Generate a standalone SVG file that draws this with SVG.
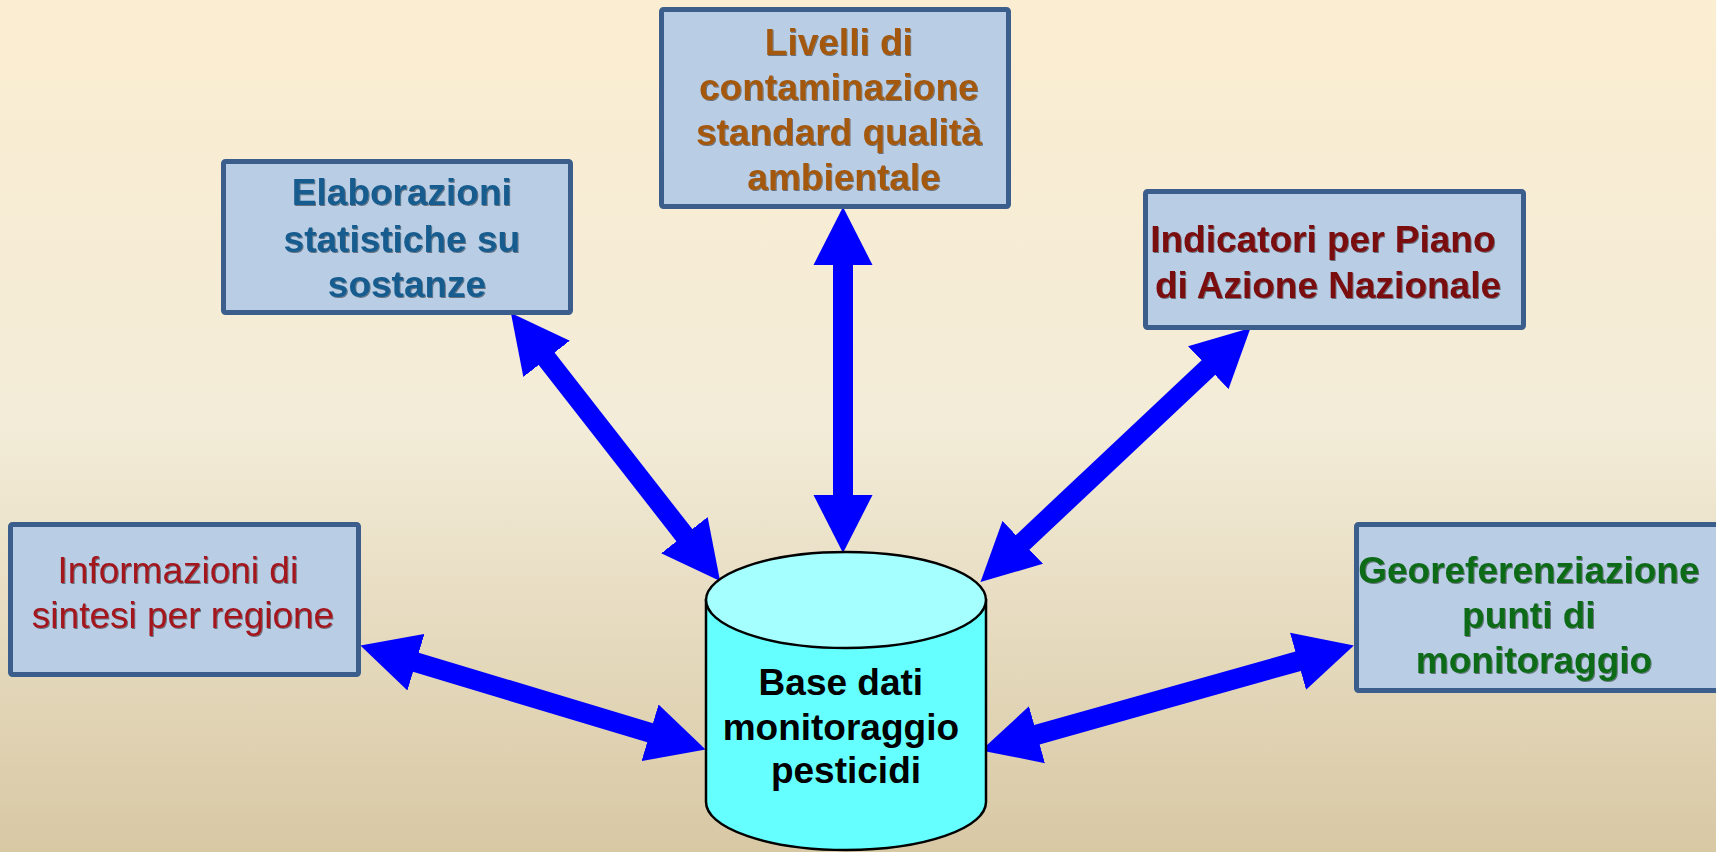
<svg xmlns="http://www.w3.org/2000/svg" width="1716" height="852" viewBox="0 0 1716 852">
  <defs>
    <linearGradient id="bg" x1="0" y1="0" x2="0" y2="1">
      <stop offset="0" stop-color="#fbedd1"/>
      <stop offset="0.5" stop-color="#f3ecd8"/>
      <stop offset="1" stop-color="#d8c8a4"/>
    </linearGradient>
    <marker id="head" viewBox="0 -30 58 60" refX="1" refY="0" markerWidth="58" markerHeight="60" markerUnits="userSpaceOnUse" orient="auto-start-reverse">
      <path d="M0,-29.5 L58,0 L0,29.5 Z" fill="#0000ff"/>
    </marker>
    <filter id="sh" x="-5%" y="-20%" width="110%" height="140%">
      <feDropShadow dx="1" dy="1" stdDeviation="0.7" flood-color="#000" flood-opacity="0.45"/>
    </filter>
    <style>
      .box { fill: #b9cde4; stroke: #3b5e8c; stroke-width: 5; }
      .t { font-family: "Liberation Sans", Arial, sans-serif; text-anchor: middle; }
      .b { font-weight: bold; }
      .sh { filter: url(#sh); }
      .arr { stroke: #0000ff; stroke-width: 20; fill: none; marker-start: url(#head); marker-end: url(#head); }
    </style>
  </defs>
  <rect x="0" y="0" width="1716" height="852" fill="url(#bg)"/>

  <g id="connectors">
    <line class="arr" x1="546" y1="358" x2="685" y2="536"/>
    <line class="arr" x1="843" y1="264" x2="843" y2="496"/>
    <line class="arr" x1="1209" y1="367" x2="1022" y2="543"/>
    <line class="arr" x1="415" y1="662" x2="651" y2="733"/>
    <line class="arr" x1="1036" y1="735" x2="1299" y2="661"/>
  </g>

  <g id="node-elaborazioni">
    <rect class="box" x="223.5" y="161.5" width="347" height="151" rx="2"/>
    <text class="t b sh" font-size="37" fill="#165b8e">
      <tspan x="407" y="205">Elaborazioni</tspan>
      <tspan x="407" y="252">statistiche su</tspan>
      <tspan x="407" y="297">sostanze</tspan>
    </text>
  </g>

  <g id="node-livelli">
    <rect class="box" x="661.5" y="9.5" width="347" height="197" rx="2"/>
    <text class="t b sh" font-size="37" fill="#a3590f">
      <tspan x="844" y="55">Livelli di</tspan>
      <tspan x="844" y="100">contaminazione</tspan>
      <tspan x="844" y="145">standard qualità</tspan>
      <tspan x="844" y="190">ambientale</tspan>
    </text>
  </g>

  <g id="node-indicatori">
    <rect class="box" x="1145.5" y="191.5" width="378" height="136" rx="2"/>
    <text class="t b sh" font-size="37" fill="#7a0a0e">
      <tspan x="1328" y="252">Indicatori per Piano</tspan>
      <tspan x="1328" y="298">di Azione Nazionale</tspan>
    </text>
  </g>

  <g id="node-informazioni">
    <rect class="box" x="10.5" y="524.5" width="348" height="150" rx="2"/>
    <text class="t sh" font-size="37" fill="#a3161f">
      <tspan x="183" y="583">Informazioni di</tspan>
      <tspan x="183" y="628">sintesi per regione</tspan>
    </text>
  </g>

  <g id="node-georeferenziazione">
    <rect class="box" x="1356.5" y="524.5" width="372" height="166" rx="2"/>
    <text class="t b sh" font-size="37" fill="#0d6a17">
      <tspan x="1534" y="583">Georeferenziazione</tspan>
      <tspan x="1534" y="628">punti di</tspan>
      <tspan x="1534" y="673">monitoraggio</tspan>
    </text>
  </g>

  <g id="node-database">
    <path d="M706,600 L706,802 A140,48 0 0,0 986,802 L986,600 Z" fill="#66ffff" stroke="#000" stroke-width="2.5"/>
    <ellipse cx="846" cy="600" rx="140" ry="48" fill="#a6ffff" stroke="#000" stroke-width="2.5"/>
    <text class="t b" font-size="37" fill="#000">
      <tspan x="846" y="695">Base dati</tspan>
      <tspan x="846" y="740">monitoraggio</tspan>
      <tspan x="846" y="783">pesticidi</tspan>
    </text>
  </g>
</svg>
